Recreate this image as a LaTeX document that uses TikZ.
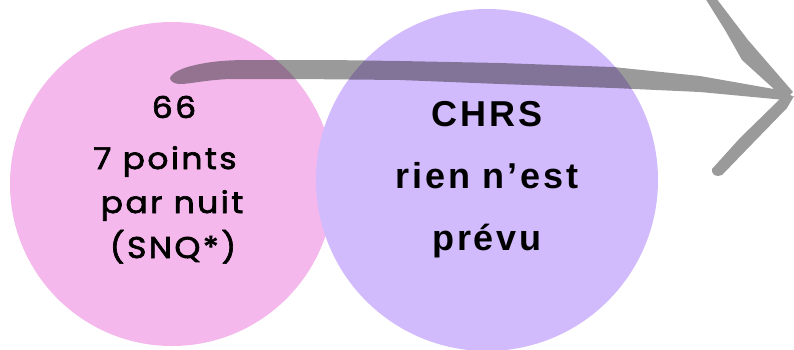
\documentclass[tikz,border=0pt]{standalone}
\usepackage{fontspec}
\setmainfont{Liberation Sans}
\newfontfamily\rightfont[LetterSpace=8]{Liberation Sans}
\newfontfamily\leftfont[FakeStretch=1.1, LetterSpace=8, FakeBold=2.2]{Poppins}
\definecolor{pinkc}{HTML}{F4B8EC}
\definecolor{purplec}{HTML}{D2BBFD}
\definecolor{arrowc}{HTML}{1F1F1F}
\tikzset{
  blob/.style={circle, inner sep=0pt, draw=none},
  ltext/.style={anchor=base, inner sep=0pt, font=\leftfont\fontsize{30}{30}\selectfont},
  rtext/.style={anchor=base, inner sep=0pt, font=\rightfont\bfseries\fontsize{36}{36}\selectfont},
}
\begin{document}
\begin{tikzpicture}[x=1pt, y=-1pt]
\useasboundingbox (0,0) rectangle (794,349);
\node[blob, fill=pinkc, minimum size=324pt] (pink) at (172,184) {};
\node[blob, fill=purplec, minimum size=342pt] (purple) at (487,180) {};
% left texts
\node[ltext] (l1) at (174,118) {66};
\node[ltext] (l2) at (165,169) {7 points};
\node[ltext] (l3) at (172,213) {par nuit};
\node[ltext] (l4) at (173,258) {(SNQ*)};
% right texts
\node[rtext] (r1) at (487,126) {CHRS};
\node[rtext] (r2) at (487,188) {rien n’est};
\node[rtext] (r3) at (487,250) {prévu};
% arrow
\coordinate (tail) at (170,78);
\coordinate (tip) at (792,96);
\fill[arrowc, fill opacity=0.45]
  (tail) .. controls (172,73) and (180,68) .. (200,64)
  .. controls (215,61) and (230,60) .. (250,60)
  -- (330,60) -- (400,61) -- (500,63) -- (613,67) -- (700,76) -- (785,91) -- (tip)
  -- (785,100) -- (700,92) -- (613,88) -- (500,84) -- (400,80) -- (300,79) -- (230,79)
  .. controls (205,80) and (190,84) .. (180,84)
  .. controls (174,84) and (170,81) .. (tail) -- cycle
  (705,-2) -- (716,-2) -- (748,40) -- (793,92) -- (785,99) -- (742,60) -- (725,30) -- cycle
  (794,96) -- (787,108) -- (752,144) -- (722,175) .. controls (716,178) and (711,174) .. (712,169) -- (740,138) -- (780,99) -- cycle;
\end{tikzpicture}
\end{document}
